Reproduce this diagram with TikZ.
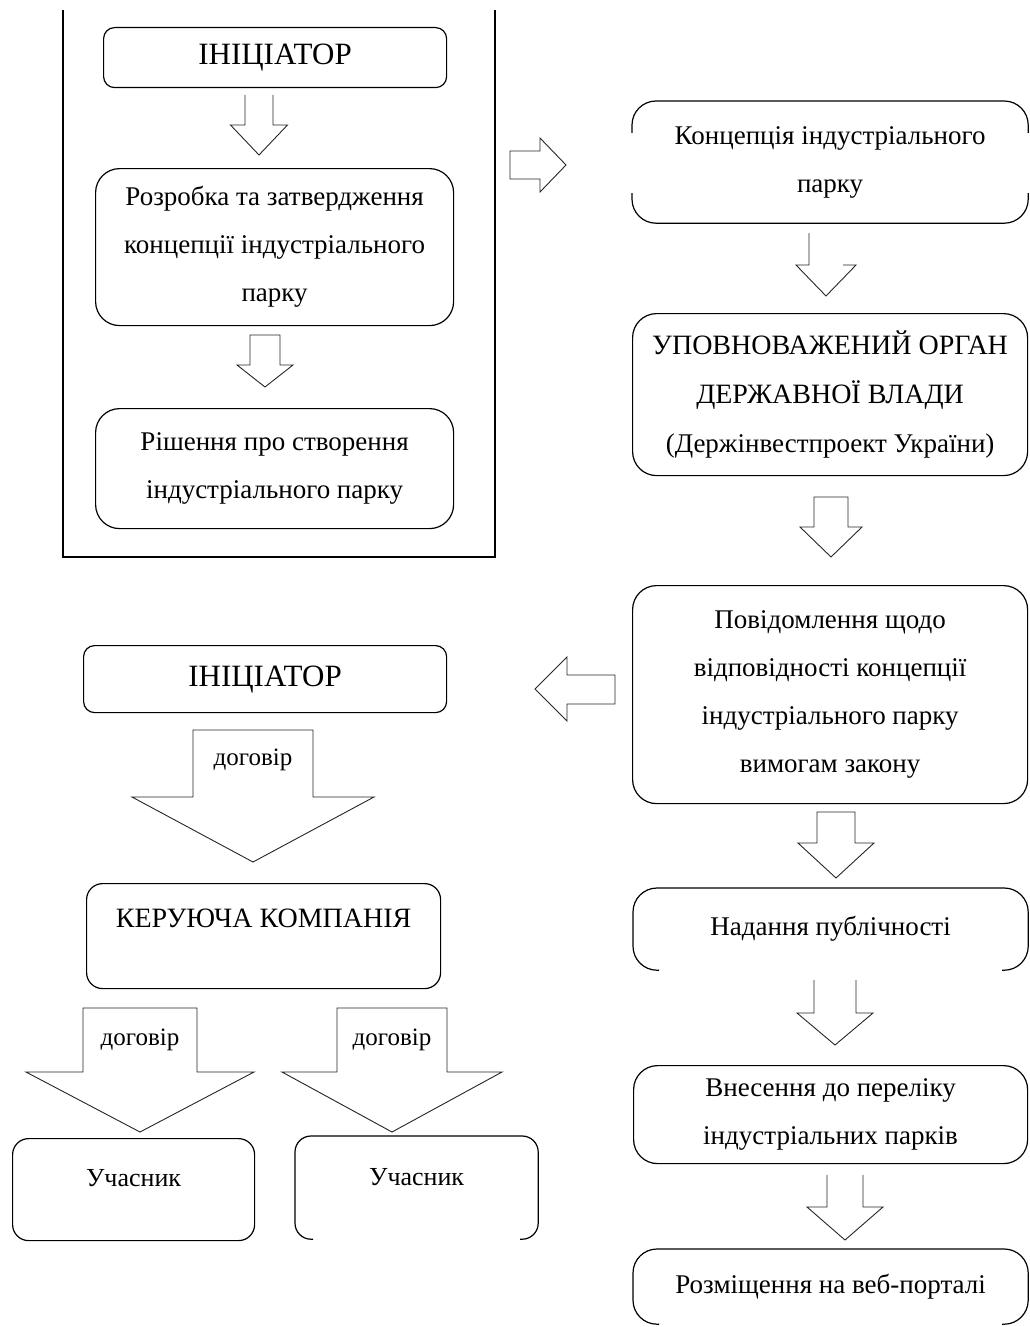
\documentclass[tikz,border=0pt]{standalone}
\usepackage{fontspec}
\setmainfont{Liberation Serif}
\usetikzlibrary{calc}
% closed block arrow pointing down: cx, shaft half width, top, head base, head half width, tip
\newcommand\blockdown[6]{%
  \draw[barrow] ({#1-#2},#3) -- ({#1+#2},#3) -- ({#1+#2},#4) -- ({#1+#5},#4) -- (#1,#6) -- ({#1-#5},#4) -- ({#1-#2},#4) -- cycle;}
% block arrow whose shaft top is not drawn
\newcommand\blockdownopen[6]{%
  \draw[barrow] ({#1-#2},#3) -- ({#1-#2},#4) -- ({#1-#5},#4) -- (#1,#6) -- ({#1+#5},#4) -- ({#1+#2},#4) -- ({#1+#2},#3);}
% block arrow with only the left shaft line
\newcommand\blockdownhalf[6]{%
  \draw[barrow] ({#1-#2},#3) -- ({#1-#2},#4) -- ({#1-#5},#4) -- (#1,#6) -- ({#1+#5},#4) -- ({#1+#2},#4);}
\begin{document}
\begin{tikzpicture}[x=1pt,y=-1pt,
  box/.style={draw, line width=1.2pt, anchor=north west, align=center, inner sep=0pt,
              font=\fontsize{27}{48}\selectfont},
  ghost/.style={box, draw=none},
  outline/.style={draw, line width=1.2pt, rounded corners=24pt},
  bigr/.style={rounded corners=24pt},
  smallr/.style={rounded corners=11pt},
  midr/.style={rounded corners=16pt},
  capsfont/.style={font=\fontsize{28}{49}\selectfont},
  inifont/.style={font=\fontsize{31}{36}\selectfont},
  barrow/.style={draw=black!85, line width=0.9pt, line join=miter},
  lbl/.style={font=\fontsize{25}{28}\selectfont, inner sep=0pt},
  frame/.style={draw, line width=1.2pt}
]
\useasboundingbox (0,0) rectangle (1029,1327);

% outer frame of the initiator block
\coordinate (f1) at (63,10);
\coordinate (f2) at (63,557);
\coordinate (f3) at (495,557);
\coordinate (f4) at (495,10);
\draw[frame] (f1) -- (f2) -- (f3) -- (f4);

% left column (top)
\node[box,smallr,inifont,minimum width=343pt,minimum height=60pt] (ini1) at (103,27) {ІНІЦІАТОР};
\node[box,bigr,minimum width=358pt,minimum height=157pt] (rozr) at (95,168)
  {Розробка та затвердження\\концепції індустріального\\парку};
\node[box,bigr,minimum width=358pt,minimum height=120pt] (rish) at (95,408)
  {Рішення про створення\\індустріального парку};

\blockdownopen{259}{14}{95}{125}{28.5}{155}
\blockdown{265}{15}{335}{365}{28}{387}

% arrow to the right column
\draw[barrow] (510,151) -- (540,151) -- (540,138) -- (566,165) -- (540,192) -- (540,179) -- (510,179) -- cycle;

% right column
\node[ghost,minimum width=395pt,minimum height=121pt] (konc) at (632,101)
  {Концепція індустріального\\парку};
\draw[outline] ($(konc.north west)+(0,32)$) -- (konc.north west) -- (konc.north east) -- ($(konc.north east)+(0,32)$);
\draw[outline] ($(konc.south west)+(0,-30)$) -- (konc.south west) -- (konc.south east) -- ($(konc.south east)+(0,-30)$);
\node[box,bigr,capsfont,minimum width=395pt,minimum height=162pt] (organ) at (632,313)
  {УПОВНОВАЖЕНИЙ ОРГАН\\ДЕРЖАВНОЇ ВЛАДИ\\{\fontsize{27}{48}\selectfont(Держінвестпроект України)}};
\node[box,bigr,minimum width=395pt,minimum height=218pt] (povid) at (632,585)
  {Повідомлення щодо\\відповідності концепції\\індустріального парку\\вимогам закону};
\node[ghost,minimum width=394pt,minimum height=81pt] (publ) at (633,888)
  {Надання публічності};
\draw[outline] ($(publ.south west)+(26,0)$) -- (publ.south west) -- (publ.north west) -- (publ.north east) -- (publ.south east) -- ($(publ.south east)+(-26,0)$);
\node[box,bigr,minimum width=394pt,minimum height=98pt] (pere) at (633,1065)
  {Внесення до переліку\\індустріальних парків};
\node[ghost,minimum width=394pt,minimum height=74pt] (portal) at (633,1249)
  {Розміщення на веб-порталі};
\draw[outline] ($(portal.south west)+(26,0)$) -- (portal.south west) -- (portal.north west) -- (portal.north east) -- (portal.south east) -- ($(portal.south east)+(-26,0)$);

\blockdownhalf{826}{17}{233}{265}{30}{296}
\blockdown{831}{17}{497}{527}{31}{557}
\draw[barrow] (615,675) -- (567,675) -- (567,657) -- (535,689) -- (567,721) -- (567,704) -- (615,704) -- cycle;
\blockdown{836}{19}{812}{843}{38}{878}
\blockdownopen{835}{21}{980}{1013}{38}{1045}
\blockdownopen{845}{18}{1175}{1207}{38}{1240}

% left column (bottom)
\node[box,smallr,inifont,minimum width=363pt,minimum height=67pt] (ini2) at (83,645) {ІНІЦІАТОР};
\node[box,midr,capsfont,minimum width=354pt,minimum height=105pt,text height=19pt,text depth=37pt] (kk) at (86,883)
  {КЕРУЮЧА КОМПАНІЯ};
\node[box,midr,minimum width=242pt,minimum height=102pt,font=\fontsize{26}{30}\selectfont,text height=17pt,text depth=23pt] (u1) at (12,1138) {Учасник};
\node[ghost,minimum width=242pt,minimum height=102pt,font=\fontsize{26}{30}\selectfont,text height=17pt,text depth=21pt] (u2) at (295,1136) {Учасник};
\draw[outline,rounded corners=16pt] ($(u2.south west)+(18,0)$) -- (u2.south west) -- (u2.north west) -- (u2.north east) -- (u2.south east) -- ($(u2.south east)+(-18,0)$);

\blockdown{253}{60}{730}{797}{121}{862}
\blockdown{140}{57}{1008}{1072}{114}{1132}
\blockdown{392}{55}{1008}{1072}{110}{1132}
\node[lbl] (d1) at (253,760) {договір};
\node[lbl] (d2) at (140,1040) {договір};
\node[lbl] (d3) at (392,1040) {договір};
\end{tikzpicture}
\end{document}
